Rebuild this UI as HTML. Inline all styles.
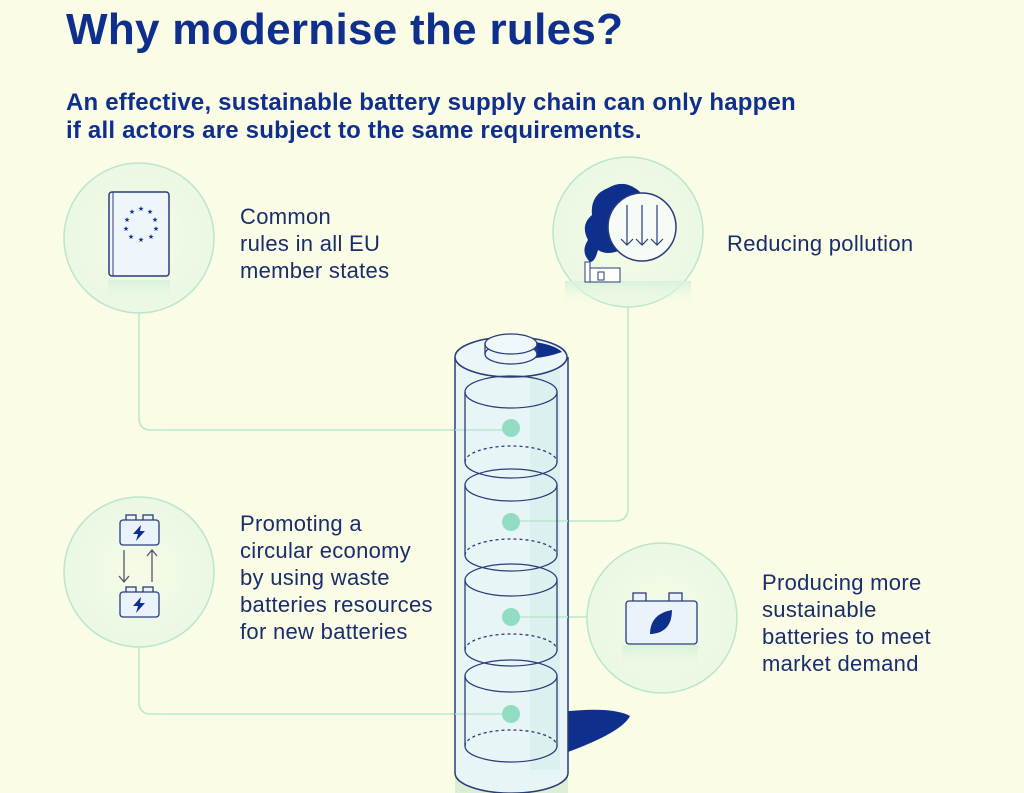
<!DOCTYPE html>
<html><head><meta charset="utf-8"><style>
body{margin:0;width:1024px;height:793px;overflow:hidden;background:#fbfce6;font-family:"Liberation Sans",sans-serif;position:relative}
.t{position:absolute;color:#0e2f8c}
h1{position:absolute;left:66px;top:5px;margin:0;font-size:44px;font-weight:bold;color:#0e2f8c;letter-spacing:0.3px}
.sub{left:66px;top:89px;font-size:24px;font-weight:bold;line-height:28px;letter-spacing:0.2px}
.lab{font-size:22px;line-height:27px;color:#1a2d6b;letter-spacing:0.3px}
</style></head><body>
<svg width="1024" height="793" style="position:absolute;left:0;top:0">
<defs>
<radialGradient id="cg" cx="50%" cy="50%" r="50%"><stop offset="0" stop-color="#f6fbe6"/><stop offset="1" stop-color="#eaf8e4"/></radialGradient>
<linearGradient id="gl" x1="0" y1="0" x2="0" y2="1"><stop offset="0" stop-color="#d8f2dc"/><stop offset="1" stop-color="#f4fbe6" stop-opacity="0"/></linearGradient>
</defs>
<g fill="none" stroke="#b9e6cc" stroke-width="1.5">
<path d="M139 313 V418 Q139 430 151 430 H511"/>
<path d="M628 307 V508 Q628 521 615 521 H511"/>
<path d="M587 617 H511"/>
<path d="M139 647 V702 Q139 714 151 714 H511"/>
</g>
<g stroke="#b9e6cc" stroke-width="1.5" fill="url(#cg)">
<circle cx="139" cy="238" r="75"/><circle cx="628" cy="232" r="75"/>
<circle cx="139" cy="572" r="75"/><circle cx="662" cy="618" r="75"/>
</g>
<rect x="108" y="280" width="62" height="30" fill="url(#gl)"/>
<rect x="109" y="192" width="60" height="84" rx="3" fill="#eef6fb" stroke="#2a3c7a" stroke-width="1.5"/>
<line x1="113" y1="192" x2="113" y2="276" stroke="#2a3c7a"/>
<g fill="#0e2f8c" font-size="7" text-anchor="middle">
<text x="141" y="211">★</text><text x="150" y="214">★</text><text x="155" y="222">★</text><text x="156" y="231">★</text><text x="151" y="239">★</text><text x="141" y="242">★</text><text x="131" y="239">★</text><text x="126" y="231">★</text><text x="127" y="222">★</text><text x="132" y="214">★</text>
</g>
<rect x="565" y="281" width="126" height="26" fill="url(#gl)"/>
<path d="M590 262 Q580 252 588 240 Q580 225 592 215 Q590 195 608 188 Q625 178 640 192 L630 245 Q610 258 598 250 Q595 262 590 262Z" fill="#0e2f8c"/>
<circle cx="642" cy="227" r="34" fill="#f6fbf6" stroke="#2a3c7a" stroke-width="1.5"/>
<g stroke="#2a3c7a" fill="none" stroke-width="1.2"><path d="M627 205V245M621 239l6 6 6-6M642 205V245M636 239l6 6 6-6M657 205V245M651 239l6 6 6-6"/></g>
<rect x="585" y="262" width="5" height="20" fill="#fff" stroke="#2a3c7a"/>
<rect x="590" y="268" width="30" height="14" fill="#fff" stroke="#2a3c7a"/>
<rect x="598" y="272" width="6" height="8" fill="none" stroke="#2a3c7a"/>
<g stroke="#2a3c7a" stroke-width="1.3" fill="#eaf3fa">
<rect x="126" y="515" width="10" height="6"/><rect x="143" y="515" width="10" height="6"/>
<rect x="120" y="520" width="39" height="25" rx="3"/>
<rect x="126" y="587" width="10" height="6"/><rect x="143" y="587" width="10" height="6"/>
<rect x="120" y="592" width="39" height="25" rx="3"/>
</g>
<g fill="#0e2f8c"><path d="M141 525 L133 534 H138 L136 541 L145 531 H140Z"/><path d="M141 597 L133 606 H138 L136 613 L145 603 H140Z"/></g>
<g stroke="#556" fill="none" stroke-width="1.3"><path d="M124 550V581M119 576l5 6 5-6M152 582V551M147 556l5-6 5 6"/></g>
<rect x="622" y="645" width="76" height="30" fill="url(#gl)"/>
<g stroke="#2a3c7a" stroke-width="1.3" fill="#eaf3fa">
<rect x="633" y="593" width="13" height="9"/><rect x="669" y="593" width="13" height="9"/>
<rect x="626" y="601" width="71" height="43" rx="3"/>
</g>
<path d="M650 634 Q650 614 672 610 Q672 632 652 634Z" fill="#0e2f8c"/>
<rect x="455" y="740" width="113" height="53" fill="#dcefd6"/>
<path d="M560 712 Q612 706 630 716 Q622 732 568 752Z" fill="#0e2f8c"/>
<path d="M455 357 V773 A56 20 0 0 0 568 773 V357" fill="#e8f5f6" stroke="#2a3c7a" stroke-width="1.5"/>
<rect x="530" y="370" width="30" height="400" fill="#d9eeee" opacity=".7"/>
<g stroke="#b9e6cc" stroke-width="1.5"><path d="M455 430H511M568 521H511M568 617H511M455 714H511"/></g>
<ellipse cx="511" cy="357" rx="56" ry="20" fill="#eaf6f8" stroke="#2a3c7a" stroke-width="1.5"/>
<path d="M535 342 Q555 345 562 352 Q548 357 535 358Z" fill="#0e2f8c"/>
<ellipse cx="511" cy="354" rx="26" ry="10" fill="#eaf6f8" stroke="#2a3c7a" stroke-width="1.3"/>
<path d="M485 344 V354 M537 344 V354" stroke="#2a3c7a" stroke-width="1.3"/>
<ellipse cx="511" cy="344" rx="26" ry="10" fill="#eef8fa" stroke="#2a3c7a" stroke-width="1.3"/>
<g fill="none" stroke="#2a3c7a" stroke-width="1.3">
<g id="c"><ellipse cx="511" cy="392" rx="46" ry="16"/><path d="M465 392 V462 A46 16 0 0 0 557 462 V392"/><path d="M465 462 A46 16 0 0 1 557 462" stroke-dasharray="3 3"/></g>
<use href="#c" y="93"/><use href="#c" y="188"/><use href="#c" y="284"/>
</g>
<g fill="#92dcc3"><circle cx="511" cy="428" r="9"/><circle cx="511" cy="522" r="9"/><circle cx="511" cy="617" r="9"/><circle cx="511" cy="714" r="9"/></g>
</svg>
<h1>Why modernise the rules?</h1>
<div class="t sub">An effective, sustainable battery supply chain can only happen<br>if all actors are subject to the same requirements.</div>
<div class="t lab" style="left:240px;top:203px">Common<br>rules in all EU<br>member states</div>
<div class="t lab" style="left:727px;top:230px">Reducing pollution</div>
<div class="t lab" style="left:240px;top:510px">Promoting a<br>circular economy<br>by using waste<br>batteries resources<br>for new batteries</div>
<div class="t lab" style="left:762px;top:569px">Producing more<br>sustainable<br>batteries to meet<br>market demand</div>
</body></html>
